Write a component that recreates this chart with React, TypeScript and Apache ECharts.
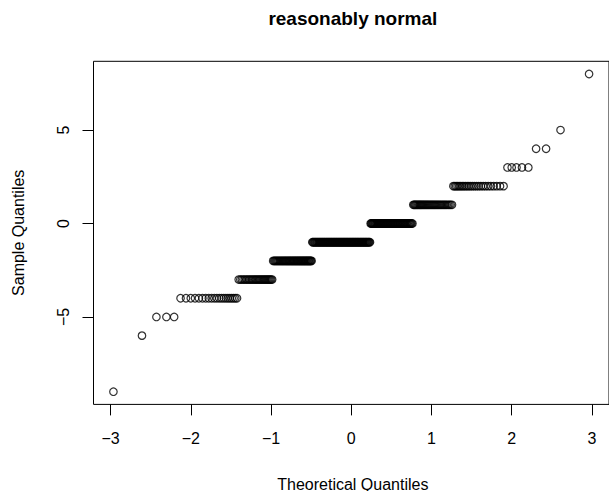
import React, { useEffect, useRef } from "react";
import * as echarts from "echarts";

// Sample values (integers) and how many observations take each value
const sampleValues = [-9, -6, -5, -4, -3, -2, -1, 0, 1, 2, 3, 4, 5, 8];
const sampleCounts = [1, 1, 3, 21, 28, 49, 93, 61, 39, 25, 5, 2, 1, 1];
const xTicks = [-3, -2, -1, 0, 1, 2, 3];
const yTicks = [-5, 0, 5];
const titleText = "reasonably normal";
const xTitle = "Theoretical Quantiles";
const yTitle = "Sample Quantiles";

// inverse standard normal CDF (Acklam)
function qnorm(p: number): number {
  const a = [-3.969683028665376e1, 2.209460984245205e2, -2.759285104469687e2, 1.38357751867269e2, -3.066479806614716e1, 2.506628277459239];
  const b = [-5.447609879822406e1, 1.615858368580409e2, -1.556989798598866e2, 6.680131188771972e1, -1.328068155288572e1];
  const c = [-7.784894002430293e-3, -3.223964580411365e-1, -2.400758277161838, -2.549732539343734, 4.374664141464968, 2.938163982698783];
  const d = [7.784695709041462e-3, 3.224671290700398e-1, 2.445134176943581, 3.754408661907416];
  const plow = 0.02425;
  if (p < plow) {
    const q = Math.sqrt(-2 * Math.log(p));
    return (((((c[0] * q + c[1]) * q + c[2]) * q + c[3]) * q + c[4]) * q + c[5]) /
      ((((d[0] * q + d[1]) * q + d[2]) * q + d[3]) * q + 1);
  }
  if (p <= 1 - plow) {
    const q = p - 0.5;
    const r = q * q;
    return ((((((a[0] * r + a[1]) * r + a[2]) * r + a[3]) * r + a[4]) * r + a[5]) * q) /
      (((((b[0] * r + b[1]) * r + b[2]) * r + b[3]) * r + b[4]) * r + 1);
  }
  const q = Math.sqrt(-2 * Math.log(1 - p));
  return -(((((c[0] * q + c[1]) * q + c[2]) * q + c[3]) * q + c[4]) * q + c[5]) /
    ((((d[0] * q + d[1]) * q + d[2]) * q + d[3]) * q + 1);
}

function buildQQ(): number[][] {
  const sorted: number[] = [];
  sampleValues.forEach((v, i) => {
    for (let k = 0; k < sampleCounts[i]; k++) sorted.push(v);
  });
  const n = sorted.length;
  return sorted.map((v, i) => [qnorm((i + 1 - 0.5) / n), v]);
}

const FONT = "'Liberation Sans', Arial, Helvetica, sans-serif";
const minus = (v: number) => String(v).replace("-", "\u2212");

export default function App() {
  const ref = useRef<HTMLDivElement>(null);
  useEffect(() => {
    document.body.style.margin = "0";
    if (!ref.current) return;
    const chart = echarts.init(ref.current, undefined, { renderer: "svg" });
    const pts = buildQQ();
    const gridLeft = 93.5;
    const gridTop = 61.3;
    const gridW = 518.7;
    const gridH = 343.1;
    chart.setOption({
      animation: false,
      backgroundColor: "#ffffff",
      grid: {
        left: gridLeft,
        top: gridTop,
        width: gridW,
        height: gridH,
        show: true,
        borderColor: "#000",
        borderWidth: 1,
        backgroundColor: "transparent",
      },
      xAxis: {
        type: "value",
        min: -3.213,
        max: 3.213,
        axisLine: { show: false, onZero: false },
        splitLine: { show: false },
        axisTick: { show: true, length: 11, customValues: xTicks, lineStyle: { color: "#000", width: 1 } },
        axisLabel: {
          customValues: xTicks,
          formatter: (v: number) => minus(v),
          color: "#000",
          fontFamily: FONT,
          fontSize: 16,
          margin: 26,
        },
      },
      yAxis: {
        type: "value",
        min: -9.68,
        max: 8.68,
        axisLine: { show: false, onZero: false },
        splitLine: { show: false },
        axisTick: { show: true, length: 11, customValues: yTicks, lineStyle: { color: "#000", width: 1 } },
        axisLabel: {
          customValues: yTicks,
          rotate: 90,
          formatter: (v: number) => minus(v),
          color: "#000",
          fontFamily: FONT,
          fontSize: 16,
          margin: 22,
        },
      },
      graphic: [
        {
          type: "text",
          x: 352.85,
          y: 18,
          style: { text: titleText, font: `bold 19px ${FONT}`, fill: "#000", textAlign: "center", textVerticalAlign: "middle" },
        },
        {
          type: "text",
          x: 352.85,
          y: 484,
          style: { text: xTitle, font: `16px ${FONT}`, fill: "#000", textAlign: "center", textVerticalAlign: "middle" },
        },
        {
          type: "text",
          x: 18,
          y: 232.8,
          rotation: Math.PI / 2,
          style: { text: yTitle, font: `16px ${FONT}`, fill: "#000", textAlign: "center", textVerticalAlign: "middle" },
        },
      ],
      series: [
        {
          type: "scatter",
          data: pts,
          symbol: "circle",
          symbolSize: 7.5,
          itemStyle: { color: "rgba(0,0,0,0)", borderColor: "#000", borderWidth: 1.2 },
          emphasis: { disabled: true },
          silent: true,
        },
      ],
    });
    return () => chart.dispose();
  }, []);
  return <div ref={ref} style={{ width: 609, height: 491 }} />;
}
